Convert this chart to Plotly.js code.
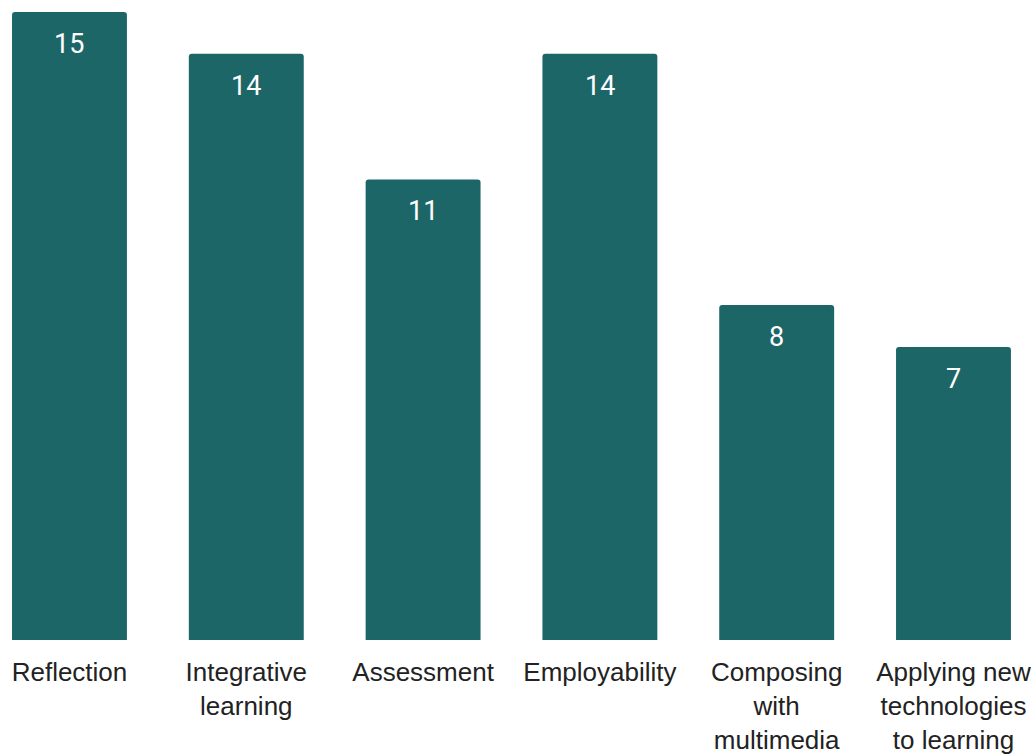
<!DOCTYPE html>
<html>
<head>
<meta charset="utf-8">
<script src="https://cdn.plot.ly/plotly-3.0.1.min.js"></script>
<style>html,body{margin:0;padding:0;background:#fff;}#chart{width:1035px;height:755px;}</style>
</head>
<body>
<div id="chart"></div>
<script>
const categories = ["Reflection", "Integrative<br>learning", "Assessment", "Employability", "Composing<br>with<br>multimedia", "Applying new<br>technologies<br>to learning"];
const values = [15, 14, 11, 14, 8, 7];
const barColor = "#1d6668";

const trace = {
  type: "bar",
  x: categories,
  y: values,
  marker: {color: barColor},
  width: 0.65,
  hoverinfo: "none"
};

const annotations = categories.map((c, i) => ({
  x: c, y: values[i], xref: "x", yref: "y",
  text: String(values[i]), showarrow: false,
  yanchor: "top", yshift: -14,
  font: {family: "Roboto", size: 27, color: "#ffffff"}
}));

const layout = {
  width: 1035, height: 755,
  margin: {l: 0, r: 0, t: 0, b: 115},
  paper_bgcolor: "#ffffff", plot_bgcolor: "#ffffff",
  barcornerradius: 3,
  showlegend: false,
  xaxis: {
    type: "category",
    range: [-0.393, 5.461],
    showgrid: false, zeroline: false, showline: false,
    ticks: "", ticklabelstandoff: 14,
    tickfont: {family: "Liberation Sans", size: 26, color: "#222222"}
  },
  yaxis: {
    range: [0, 15.286],
    visible: false, showgrid: false, zeroline: false
  },
  annotations: annotations
};

Plotly.newPlot("chart", [trace], layout, {staticPlot: true, displayModeBar: false});
</script>
</body>
</html>
